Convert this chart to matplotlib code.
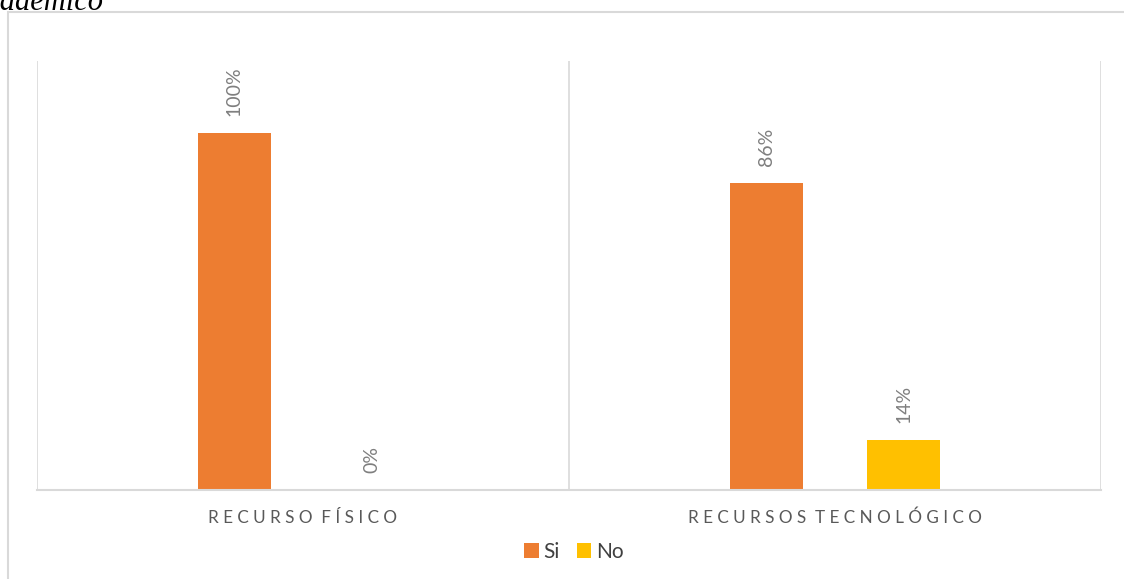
# Recursos: físico vs tecnológico (Si / No)
import matplotlib
matplotlib.use('Agg')
from matplotlib import pyplot as plt
from matplotlib.patches import Rectangle

plt.rcParams['font.family'] = ['Lato', 'DejaVu Sans']

# datos
categorias = ['RECURSO FÍSICO', 'RECURSOS TECNOLÓGICO']
si = [1.00, 0.86]
no = [0.00, 0.14]
etiquetas_si = ['100%', '86%']
etiquetas_no = ['0%', '14%']

naranja = '#ED7D31'
amarillo = '#FFC000'
gris_linea = '#D9D9D9'

fig = plt.figure(figsize=(11.24, 5.79), dpi=100)
W, H = 1124, 579
ax = fig.add_axes([37 / W, (H - 490) / H, (1101 - 37) / W, (490 - 61) / H])

x = list(range(len(categorias)))
ancho = 0.137
desp = 0.129
b1 = ax.bar([i - desp for i in x], si, ancho, color=naranja, label='Si')
b2 = ax.bar([i + desp for i in x], no, ancho, color=amarillo, label='No')

# etiquetas de valor giradas
for barras, textos in ((b1, etiquetas_si), (b2, etiquetas_no)):
    for b, t in zip(barras, textos):
        ax.annotate(t, (b.get_x() + b.get_width() / 2, b.get_height()),
                    xytext=(0, 17), textcoords='offset pixels',
                    rotation=90, ha='center', va='bottom', fontsize=14,
                    color='#7F7F7F')

ax.set_xlim(-0.5, len(categorias) - 0.5)
ax.set_ylim(0, 1.2)

# separadores de categoría
for s in [-0.5, 0.5, 1.5]:
    ax.axvline(s, color=gris_linea, lw=1.2, zorder=0)

for lado in ['top', 'right', 'left']:
    ax.spines[lado].set_visible(False)
ax.spines['bottom'].set_color(gris_linea)
ax.spines['bottom'].set_linewidth(1.5)
ax.set_yticks([])
ax.set_xticks([])

# nombres de categoría con espaciado entre letras
for i, c in enumerate(categorias):
    espaciado = '  '.join(' '.join(p) for p in c.split())
    ax.text(i, -0.078, espaciado, ha='center', va='center',
            fontsize=12.3, color='#595959')

fig.legend(handles=[b1, b2], labels=['Si', 'No'], loc='center',
           bbox_to_anchor=(574 / W, (H - 552) / H), ncol=2, frameon=False,
           fontsize=15, handlelength=0.7, handleheight=0.7, handletextpad=0.25,
           columnspacing=0.8, labelcolor='#404040')

# borde exterior del gráfico
fig.patches.append(Rectangle((8 / W, -0.1), 1.2, (H - 12) / H + 0.1,
                             transform=fig.transFigure, fill=False,
                             edgecolor=gris_linea, lw=1.5))

# título cortado arriba a la izquierda (como en la captura original)
fig.text(103 / W, (H - 10) / H, 'académico', ha='right', va='baseline',
         fontsize=22, style='italic', family='Liberation Serif', color='black')

fig.savefig('out.png', dpi=100)
